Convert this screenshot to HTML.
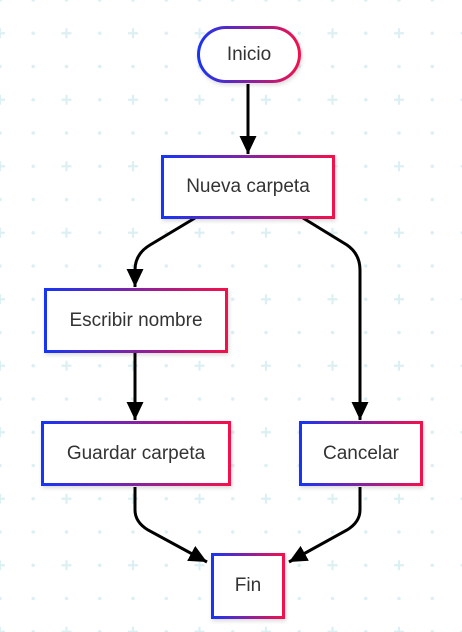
<!DOCTYPE html>
<html><head><meta charset="utf-8"><style>
html,body{margin:0;padding:0}
body{width:462px;height:632px;position:relative;overflow:hidden;background:#fff;font-family:"Liberation Sans",Arial,sans-serif}
svg{position:absolute;left:0;top:0}
.n{position:absolute;box-sizing:border-box;border:3px solid transparent;background:linear-gradient(#fff,#fff) padding-box,linear-gradient(90deg,#1535f5,#f5104a) border-box;display:flex;align-items:center;justify-content:center;color:#333;font-size:19px;box-shadow:1px 2px 4px rgba(0,0,0,.15)}
</style></head><body>
<svg width="462" height="632">
<defs>
<pattern id="g" width="66.5" height="66.5" patternUnits="userSpaceOnUse">
<circle cx="0" cy="0" r="1.8" fill="#dcf0f3"/><circle cx="33.25" cy="0" r="1.8" fill="#dcf0f3"/><circle cx="66.5" cy="0" r="1.8" fill="#dcf0f3"/>
<circle cx="33.25" cy="33.25" r="1.8" fill="#dcf0f3"/>
<path d="M-5 33.25H5M0 28.25V38.25M61.5 33.25H71.5M66.5 28.25V38.25" stroke="#dcf0f3" stroke-width="2.2"/>
<circle cx="0" cy="66.5" r="1.8" fill="#dcf0f3"/><circle cx="33.25" cy="66.5" r="1.8" fill="#dcf0f3"/><circle cx="66.5" cy="66.5" r="1.8" fill="#dcf0f3"/>
</pattern>
<marker id="a" markerWidth="18" markerHeight="17" refX="18" refY="8.5" orient="auto" markerUnits="userSpaceOnUse" viewBox="0 0 18 17"><path d="M0 0L18 8.5L0 17z" fill="#000"/></marker>
</defs>
<rect width="462" height="632" fill="url(#g)"/>
<g fill="none" stroke="#000" stroke-width="3" marker-end="url(#a)">
<path d="M248 84V154"/>
<path d="M195 218L150 245Q135 254 135 270V287"/>
<path d="M303 218L347 245Q360 254 360 270V420"/>
<path d="M135 352V420"/>
<path d="M135 487V510Q135 522 148 530L207 562"/>
<path d="M360 487V510Q360 522 347 530L289 562"/>
</g>
</svg>
<div class="n" style="left:197px;top:26px;width:104px;height:57px;border-radius:29px">Inicio</div>
<div class="n" style="left:161px;top:155px;width:174px;height:64px">Nueva carpeta</div>
<div class="n" style="left:44px;top:288px;width:184px;height:65px">Escribir nombre</div>
<div class="n" style="left:41px;top:421px;width:190px;height:65px">Guardar carpeta</div>
<div class="n" style="left:299px;top:421px;width:124px;height:65px">Cancelar</div>
<div class="n" style="left:211px;top:553px;width:74px;height:66px">Fin</div>
</body></html>
